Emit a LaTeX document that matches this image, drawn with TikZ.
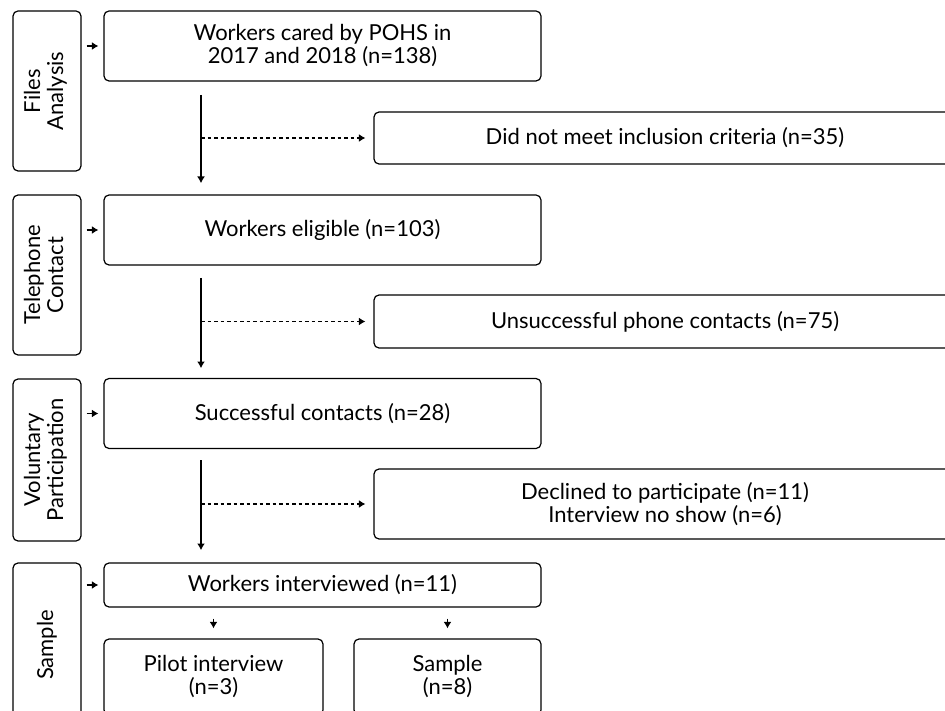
\documentclass[tikz,border=0pt]{standalone}
\usepackage{fontspec}
\setmainfont{Lato}
\usepackage{graphicx}
\usetikzlibrary{arrows.meta}

\tikzset{
  stagebox/.style={draw, rounded corners=5pt, line width=1.2pt, minimum width=68pt, inner sep=0pt},
  mainbox/.style={draw, rounded corners=5pt, line width=1.2pt, align=center, inner sep=0pt},
  flow/.style={-{Latex[length=6.5pt,width=8pt]}, line width=1.2pt},
  dflow/.style={flow, dash pattern=on 3.5pt off 3pt},
}

\begin{document}
\begin{tikzpicture}[x=1pt, y=-1pt, font=\fontsize{22}{23}\selectfont]
\useasboundingbox (0,0) rectangle (945,711);
\clip (0,0) rectangle (945,711);

% stages on the left:
\node[stagebox, minimum height=160pt] (files) at (47,91) {\rotatebox{90}{\begin{tabular}{@{}c@{}}Files\\Analysis\end{tabular}}};
\node[stagebox, minimum height=160pt] (phone) at (47,275) {\rotatebox{90}{\begin{tabular}{@{}c@{}}Telephone\\Contact\end{tabular}}};
\node[stagebox, minimum height=162pt] (volunt) at (47,460) {\rotatebox{90}{\begin{tabular}{@{}c@{}}Voluntary\\Participation\end{tabular}}};
\node[stagebox, minimum height=164pt] (sampl) at (47,645) {\rotatebox{90}{Sample}};

% main column:
\node[mainbox, minimum width=437pt, minimum height=70pt] (cared) at (322.5,46) {Workers cared by POHS in\\2017 and 2018 (n=138)};
\node[mainbox, minimum width=437pt, minimum height=70pt] (elig) at (322.5,230) {Workers eligible (n=103)};
\node[mainbox, minimum width=437pt, minimum height=70pt] (succ) at (322.5,413.5) {Successful contacts (n=28)};
\node[mainbox, minimum width=437pt, minimum height=44pt] (interv) at (322.5,585) {Workers interviewed (n=11)};
\node[mainbox, minimum width=219pt, minimum height=76pt] (pilot) at (213.5,677) {Pilot interview\\(n=3)};
\node[mainbox, minimum width=187pt, minimum height=76pt] (final) at (447.5,677) {Sample\\(n=8)};

% excluded, on the right:
\node[mainbox, minimum width=582pt, minimum height=52pt] (crit) at (665,138) {Did not meet inclusion criteria (n=35)};
\node[mainbox, minimum width=582pt, minimum height=53pt] (unsucc) at (665,321.5) {Unsuccessful phone contacts (n=75)};
\node[mainbox, minimum width=582pt, minimum height=70pt] (decl) at (665,504) {Declined to participate (n=11)\\Interview no show (n=6)};

% stage arrows:
\draw[flow] ([xshift=5pt]files.east |- cared.west) -- ([xshift=-5pt]cared.west);
\draw[flow] ([xshift=5pt]phone.east |- elig.west) -- ([xshift=-5pt]elig.west);
\draw[flow] ([xshift=5pt]volunt.east |- succ.west) -- ([xshift=-5pt]succ.west);
\draw[flow] ([xshift=5pt]sampl.east |- interv.west) -- ([xshift=-5pt]interv.west);

% flow down:
\coordinate (d1) at (201,95);
\coordinate (d2) at (201,278);
\coordinate (d3) at (201,460);
\draw[flow] (d1) -- (d1 |- 0,183);
\draw[flow] (d2) -- (d2 |- 0,368);
\draw[flow] (d3) -- (d3 |- 0,550);
\draw[dflow] (d1 |- crit.west) -- ([xshift=-8pt]crit.west);
\draw[dflow] (d2 |- unsucc.west) -- ([xshift=-8pt]unsucc.west);
\draw[dflow] (d3 |- decl.west) -- ([xshift=-8pt]decl.west);

% split of the sample:
\draw[flow] ([yshift=-11pt]interv.south -| pilot.north) -- ([yshift=10pt]pilot.north);
\draw[flow] ([yshift=-11pt]interv.south -| final.north) -- ([yshift=10pt]final.north);

\end{tikzpicture}
\end{document}
